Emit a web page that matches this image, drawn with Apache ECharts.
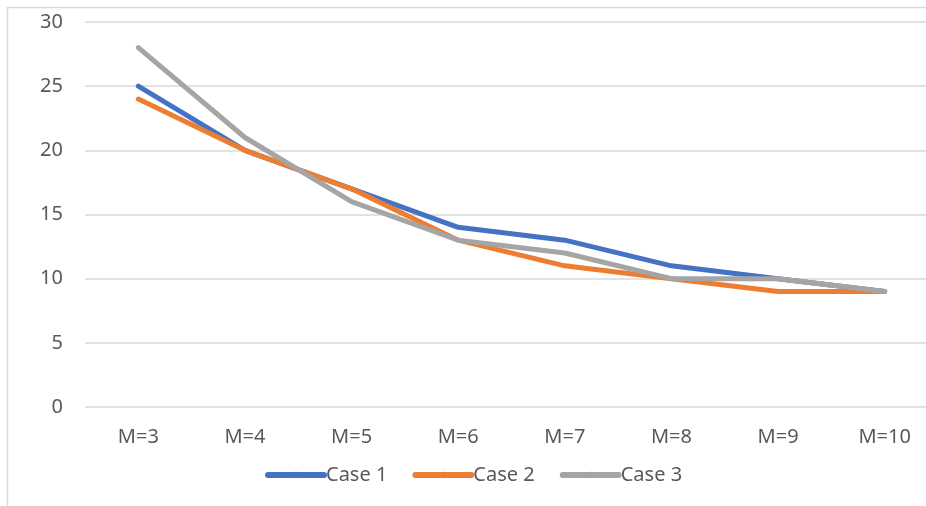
<!DOCTYPE html>
<html>
<head>
<meta charset="utf-8">
<script src="https://cdn.jsdelivr.net/npm/echarts@6/dist/echarts.min.js"></script>
<style>
html,body{margin:0;padding:0;background:#fff;overflow:hidden;width:926px;height:506px;}
#chart{width:950px;height:506px;}
</style>
</head>
<body>
<div id="chart"></div>
<script>
const categories = ['M=3','M=4','M=5','M=6','M=7','M=8','M=9','M=10'];
const case1 = [25, 20, 17, 14, 13, 11, 10, 9];
const case2 = [24, 20, 17, 13, 11, 10, 9, 9];
const case3 = [28, 21, 16, 13, 12, 10, 10, 9];
const seriesNames = ['Case 1', 'Case 2', 'Case 3'];
const colors = ['#4472C4', '#ED7D31', '#A5A5A5'];

const chart = echarts.init(document.getElementById('chart'), null, {renderer: 'canvas'});
const font = 'Noto Sans';
const txt = '#595959';
function mk(name, data, color) {
  return {
    name: name, type: 'line', data: data,
    symbol: 'none', showSymbol: false,
    color: color,
    lineStyle: {width: 5, color: color, cap: 'round', join: 'round'},
    emphasis: {disabled: true}
  };
}
chart.setOption({
  animation: false,
  backgroundColor: '#fff',
  textStyle: {fontFamily: font, color: txt},
  graphic: [{
    type: 'rect', silent: true, z: -1,
    shape: {x: 7.5, y: 7.5, width: 1200, height: 1200},
    style: {fill: null, stroke: '#d9d9d9', lineWidth: 1.5}
  }],
  grid: {left: 85, top: 22, right: 12, bottom: 99, containLabel: false},
  xAxis: {
    type: 'category', data: categories, boundaryGap: true,
    axisLine: {show: false}, axisTick: {show: false},
    axisLabel: {fontFamily: font, fontSize: 20, color: txt, margin: 20}
  },
  yAxis: {
    type: 'value', min: 0, max: 30, interval: 5,
    axisLine: {show: false}, axisTick: {show: false},
    axisLabel: {fontFamily: font, fontSize: 20, color: txt, margin: 22},
    splitLine: {lineStyle: {color: '#d9d9d9', width: 1.5}}
  },
  legend: {
    data: seriesNames,
    left: 260, top: 460,
    itemWidth: 56, itemHeight: 8, itemGap: 25,
    textStyle: {fontFamily: font, fontSize: 20, color: txt, padding: [0,0,0,-3]},
    lineStyle: {width: 6, cap: 'round'}
  },
  series: [mk(seriesNames[0], case1, colors[0]), mk(seriesNames[1], case2, colors[1]), mk(seriesNames[2], case3, colors[2])]
});
</script>
</body>
</html>
